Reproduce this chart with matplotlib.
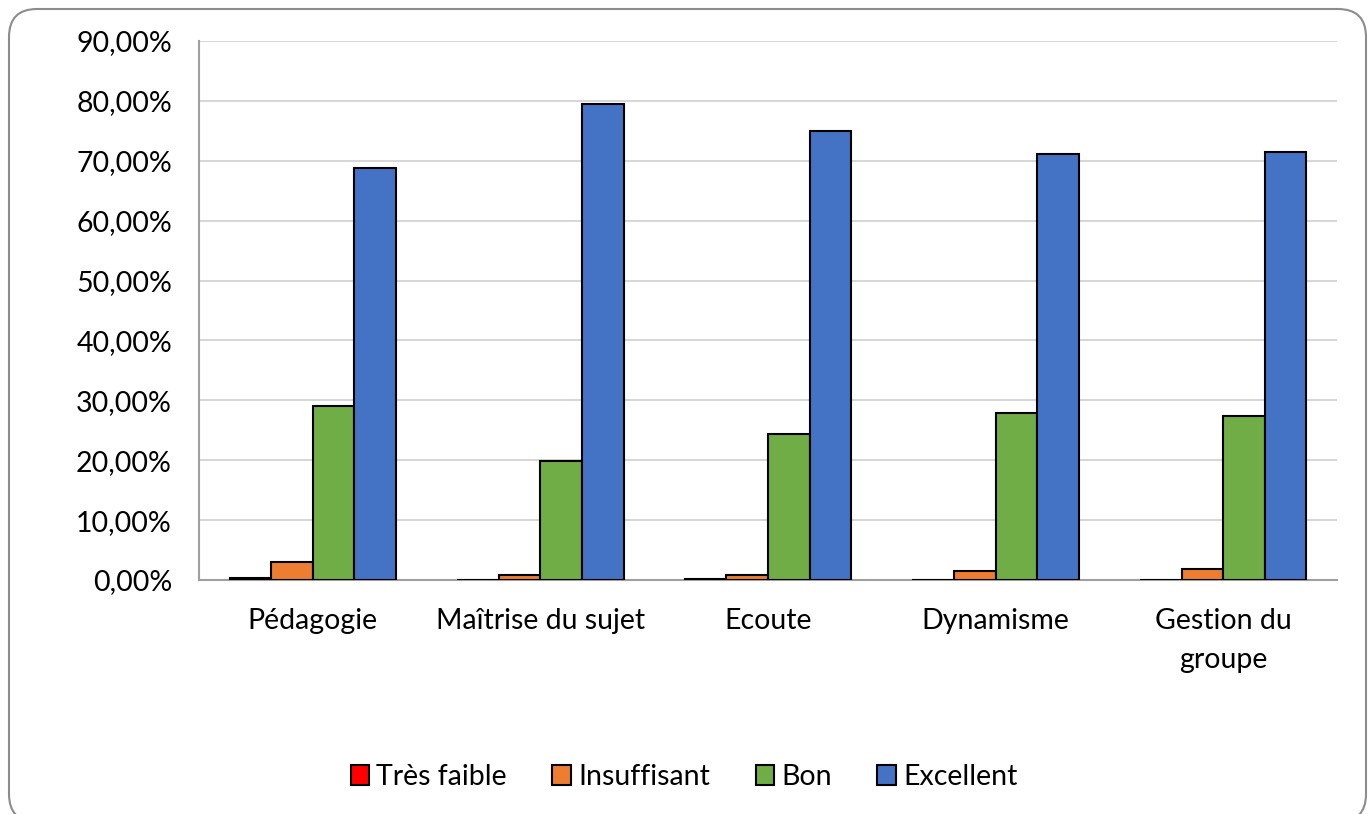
import matplotlib
matplotlib.use('Agg')
import matplotlib.pyplot as plt
import numpy as np
from matplotlib.patches import FancyBboxPatch
from matplotlib.ticker import FuncFormatter

plt.rcParams['font.family'] = ['Lato', 'DejaVu Sans']

categories = ['Pédagogie', 'Maîtrise du sujet', 'Ecoute', 'Dynamisme', 'Gestion du\ngroupe']
series = ['Très faible', 'Insuffisant', 'Bon', 'Excellent']
tres_faible = [0.3, 0.0, 0.2, 0.0, 0.0]
insuffisant = [3.0, 0.8, 0.9, 1.5, 1.8]
bon = [29.0, 19.9, 24.4, 27.8, 27.4]
excellent = [68.8, 79.5, 74.9, 71.2, 71.4]
values = [tres_faible, insuffisant, bon, excellent]
colors = ['#FF0000', '#ED7D31', '#70AD47', '#4472C4']

fig = plt.figure(figsize=(13.68, 8.14), dpi=100)
ax = fig.add_axes([0.1455, 0.2875, 0.8318, 0.6621])

# rounded outer frame (in inches so the corner stays round)
frame = FancyBboxPatch((0.09, -0.08), 13.57, 8.13,
                       boxstyle='round,pad=0,rounding_size=0.28',
                       transform=fig.dpi_scale_trans, facecolor='none',
                       edgecolor='#8c8c8c', linewidth=1.5, clip_on=False)
fig.patches.append(frame)

x = np.arange(len(categories))
width = 0.183
for i, (name, vals, c) in enumerate(zip(series, values, colors)):
    ax.bar(x + (i - 1.5) * width, vals, width=width, color=c,
           edgecolor='black', linewidth=1.5, label=name, zorder=3)

ax.set_xlim(-0.5, len(categories) - 0.5)
ax.set_ylim(0, 90)
ax.set_yticks(np.arange(0, 91, 10))
ax.yaxis.set_major_formatter(FuncFormatter(lambda v, p: f'{v:.2f}%'.replace('.', ',')))
ax.set_xticks(x)
ax.set_xticklabels(categories, linespacing=1.65)
ax.tick_params(axis='both', length=0, labelsize=20.5, colors='black')
ax.tick_params(axis='y', pad=19.5)
ax.tick_params(axis='x', pad=20)
ax.grid(True, axis='y', color='#d0d0d0', linewidth=1.2, zorder=0)
for s in ['top', 'right']:
    ax.spines[s].set_visible(False)
for s in ['left', 'bottom']:
    ax.spines[s].set_color('#a0a0a0')
    ax.spines[s].set_linewidth(1.5)

fig.legend(loc='center', bbox_to_anchor=(0.5, 1 - 777 / 814), ncol=4,
           frameon=False, fontsize=20.5, handlelength=0.65, handleheight=0.65,
           handletextpad=0.25, columnspacing=1.6)

fig.savefig('out.png', dpi=100)
